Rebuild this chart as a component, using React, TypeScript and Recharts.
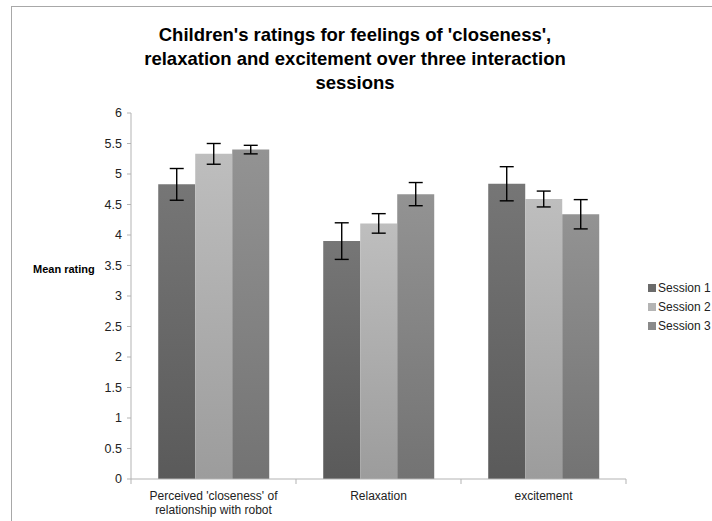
import React from 'react'
import { BarChart, Bar, XAxis, YAxis, ErrorBar } from 'recharts'

const categories = ["Perceived 'closeness' of relationship with robot", 'Relaxation', 'excitement']
const categoryLines = [["Perceived 'closeness' of", 'relationship with robot'], ['Relaxation'], ['excitement']]
const session1 = [4.83, 3.9, 4.84]
const session2 = [5.33, 4.19, 4.59]
const session3 = [5.4, 4.67, 4.34]
const session1Err = [0.26, 0.3, 0.28]
const session2Err = [0.17, 0.16, 0.13]
const session3Err = [0.07, 0.19, 0.24]
const yTicks = [0, 0.5, 1, 1.5, 2, 2.5, 3, 3.5, 4, 4.5, 5, 5.5, 6]
const seriesNames = ['Session 1', 'Session 2', 'Session 3']

const data = categories.map((c, i) => ({
  name: c,
  s1: session1[i], e1: session1Err[i],
  s2: session2[i], e2: session2Err[i],
  s3: session3[i], e3: session3Err[i],
}))

const font = 'Arial, "Liberation Sans", sans-serif'

const CategoryTick = (props: any) => {
  const { x, y, payload, index, width } = props
  const half = width / data.length / 2
  const lines = categoryLines[index] || [payload.value]
  return (
    <g>
      <line x1={x - half} y1={y - 8} x2={x - half} y2={y - 3} stroke="#b3b3b3" />
      {index === data.length - 1 && (
        <line x1={x + half} y1={y - 8} x2={x + half} y2={y - 3} stroke="#b3b3b3" />
      )}
      <text x={x} y={y} textAnchor="middle" fill="#222" fontSize={12} fontFamily={font}>
        {lines.map((l: string, i: number) => (
          <tspan key={i} x={x} dy={i === 0 ? 13 : 14}>{l}</tspan>
        ))}
      </text>
    </g>
  )
}

const legendColors = ['#6b6b6b', '#b4b4b4', '#8a8a8a']

export default function App() {
  return (
    <div style={{ position: 'fixed', left: 0, top: 0, width: 712, height: 521, background: '#fff', overflow: 'hidden', fontFamily: font }}>
      <div style={{ position: 'absolute', left: 11, top: 6, width: 720, height: 530, borderTop: '1px solid #a8a8a8', borderLeft: '1px solid #a8a8a8' }} />
      <div style={{ position: 'absolute', left: 40, top: 23, width: 630, textAlign: 'center', fontWeight: 'bold', fontSize: 18.5, lineHeight: '24px', color: '#000' }}>
        Children's ratings for feelings of 'closeness',<br />
        relaxation and excitement over three interaction<br />
        sessions
      </div>
      <div style={{ position: 'absolute', left: 33, top: 263, fontWeight: 'bold', fontSize: 11, color: '#000' }}>Mean rating</div>
      <div style={{ position: 'absolute', left: 648, top: 278, fontSize: 12, color: '#222' }}>
        {seriesNames.map((n, i) => (
          <div key={n} style={{ display: 'flex', alignItems: 'center', height: 19 }}>
            <span style={{ width: 8, height: 8, background: legendColors[i], marginRight: 2, display: 'inline-block' }} />
            {n}
          </div>
        ))}
      </div>
      <div style={{ position: 'absolute', left: 0, top: 0 }}>
        <BarChart width={712} height={521} data={data} margin={{ top: 113, right: 86, bottom: 2, left: 71 }} barCategoryGap="16.5%" barGap={0}>
          <defs>
            <linearGradient id="g1" x1="0" y1="0" x2="0" y2="1">
              <stop offset="0%" stopColor="#767676" />
              <stop offset="100%" stopColor="#5a5a5a" />
            </linearGradient>
            <linearGradient id="g2" x1="0" y1="0" x2="0" y2="1">
              <stop offset="0%" stopColor="#bebebe" />
              <stop offset="100%" stopColor="#9c9c9c" />
            </linearGradient>
            <linearGradient id="g3" x1="0" y1="0" x2="0" y2="1">
              <stop offset="0%" stopColor="#939393" />
              <stop offset="100%" stopColor="#737373" />
            </linearGradient>
          </defs>
          <XAxis dataKey="name" height={40} axisLine={{ stroke: '#b3b3b3' }} tickLine={false} interval={0} tick={<CategoryTick />} />
          <YAxis width={60} domain={[0, 6]} ticks={yTicks} interval={0} axisLine={{ stroke: '#b3b3b3' }} tickLine={{ stroke: '#b3b3b3' }} tickSize={4} tickMargin={5}
            tick={{ fill: '#222', fontSize: 12.5, fontFamily: font }} />
          <Bar dataKey="s1" name="Session 1" fill="url(#g1)" isAnimationActive={false}>
            <ErrorBar dataKey="e1" width={7} stroke="#000" strokeWidth={1.4} />
          </Bar>
          <Bar dataKey="s2" name="Session 2" fill="url(#g2)" isAnimationActive={false}>
            <ErrorBar dataKey="e2" width={7} stroke="#000" strokeWidth={1.4} />
          </Bar>
          <Bar dataKey="s3" name="Session 3" fill="url(#g3)" isAnimationActive={false}>
            <ErrorBar dataKey="e3" width={7} stroke="#000" strokeWidth={1.4} />
          </Bar>
        </BarChart>
      </div>
    </div>
  )
}
